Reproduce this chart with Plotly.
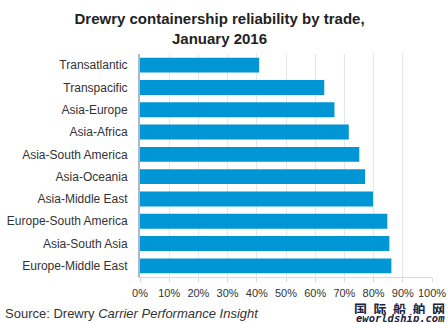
import plotly.graph_objects as go

trades = ["Transatlantic", "Transpacific", "Asia-Europe", "Asia-Africa",
          "Asia-South America", "Asia-Oceania", "Asia-Middle East",
          "Europe-South America", "Asia-South Asia", "Europe-Middle East"]
reliability = [40.8, 63.1, 66.6, 71.5, 75.1, 77.1, 79.8, 84.7, 85.4, 86.1]
tick_vals = [0, 10, 20, 30, 40, 50, 60, 70, 80, 90, 100]
tick_text = [f"{v}%" for v in tick_vals]

W, H = 448, 323
L, R, T, B = 140, 16, 54, 46
pw = W - L - R
ph = H - T - B

fig = go.Figure(go.Bar(
    x=reliability, y=trades, orientation="h",
    marker=dict(color="#0096D6", line=dict(width=0)),
))

fig.update_layout(
    width=W, height=H,
    margin=dict(l=L, r=R, t=T, b=B, autoexpand=False),
    paper_bgcolor="white", plot_bgcolor="white",
    bargap=0.33,
    showlegend=False,
    font=dict(family="Liberation Sans, Arial, sans-serif", size=12, color="#333333"),
    title=dict(
        text="<b>Drewry containership reliability by trade,<br>January 2016</b>",
        x=0.49, xanchor="center", xref="container",
        y=1 - 24 / H, yanchor="top", yref="container",
        font=dict(size=15, color="#222222"),
    ),
    xaxis=dict(
        range=[0, 100], tickvals=tick_vals, ticktext=tick_text,
        showgrid=True, gridcolor="#E3E6EE", gridwidth=1,
        showline=True, linecolor="#D5D9E2", linewidth=1,
        ticks="outside", ticklen=4, tickcolor="#D5D9E2",
        ticklabelstandoff=2,
        zeroline=False, fixedrange=True, automargin=False,
        tickfont=dict(size=11, color="#333333"),
    ),
    yaxis=dict(
        autorange="reversed",
        showline=True, linecolor="#A9B7CF", linewidth=2,
        ticks="", showgrid=False, fixedrange=True, automargin=False,
        tickfont=dict(size=12, color="#333333"),
        ticklabelstandoff=8,
    ),
    annotations=[
        dict(text="Source: Drewry <i>Carrier Performance Insight</i>",
             xref="paper", yref="paper",
             x=(3 - L) / pw, y=-(313 - (T + ph)) / ph,
             xanchor="left", yanchor="middle", showarrow=False,
             font=dict(size=13, color="#333333")),
        dict(text="<b>国\u2002际\u2002船\u2002舶\u2002网</b>",
             xref="paper", yref="paper",
             x=(446 - L) / pw, y=-(307.5 - (T + ph)) / ph,
             xanchor="right", yanchor="middle", showarrow=False,
             height=12, borderpad=0,
             font=dict(size=13, color="#1A2340", family="Noto Sans CJK SC")),
        dict(text="<b><i>eworldship.com</i></b>",
             xref="paper", yref="paper",
             x=(446 - L) / pw, y=-(318 - (T + ph)) / ph,
             xanchor="right", yanchor="middle", showarrow=False,
             height=8, borderpad=0,
             font=dict(size=10.5, color="#1A2340", family="DejaVu Sans Mono")),
    ],
)

fig.write_html("out.html")
